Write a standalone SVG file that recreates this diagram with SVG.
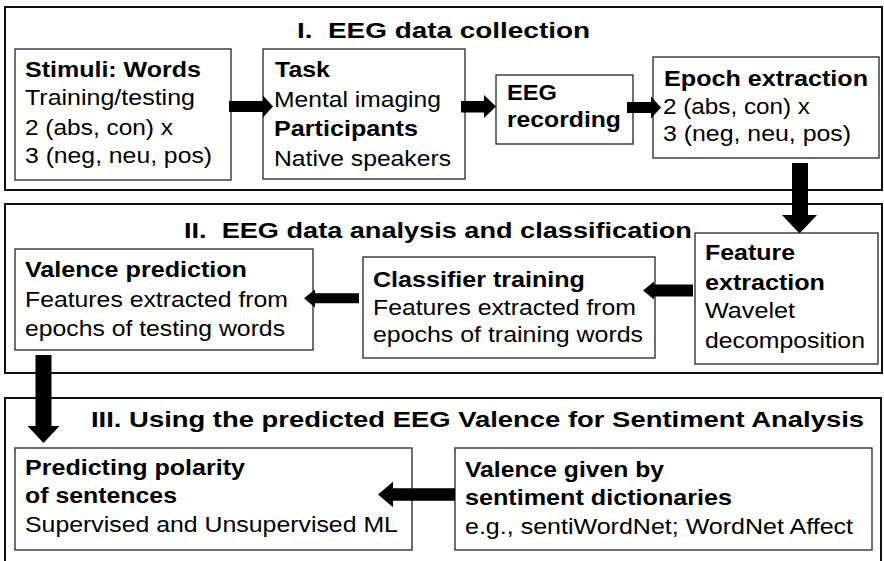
<svg xmlns="http://www.w3.org/2000/svg" width="884" height="561" viewBox="0 0 884 561">
<style>
text{font-family:"Liberation Sans",Arial,sans-serif;fill:#000;white-space:pre}
.t{font-size:21.5px;font-weight:bold}
.b{font-size:21.5px;font-weight:bold}
.r{font-size:21.5px}
.sec{fill:none;stroke:#111;stroke-width:2}
.box{fill:#fff;stroke:#333;stroke-width:1.4}
.arr{fill:#000}
</style>
<rect width="884" height="561" fill="#fff"/>
<g id="section-1">
<rect class="sec" x="5" y="7" width="877" height="183"/>
<text class="t" transform="matrix(1.15 0 0 1 297 38)" textLength="254.8" lengthAdjust="spacingAndGlyphs">I.  EEG data collection</text>
</g>
<g id="section-2">
<rect class="sec" x="5" y="204" width="877" height="169"/>
<text class="t" transform="matrix(1.15 0 0 1 184 238)" textLength="441.7" lengthAdjust="spacingAndGlyphs">II.  EEG data analysis and classification</text>
</g>
<g id="section-3">
<rect class="sec" x="5" y="398" width="876" height="170"/>
<text class="t" transform="matrix(1.15 0 0 1 91 427)" textLength="672.2" lengthAdjust="spacingAndGlyphs">III. Using the predicted EEG Valence for Sentiment Analysis</text>
</g>
<g id="node-stimuli">
<rect class="box" x="15" y="49" width="216" height="131"/>
<text class="b" transform="matrix(1.15 0 0 1 25 77)" textLength="153" lengthAdjust="spacingAndGlyphs">Stimuli: Words</text>
<text class="r" transform="matrix(1.15 0 0 1 25 105)" textLength="147.8" lengthAdjust="spacingAndGlyphs">Training/testing</text>
<text class="r" transform="matrix(1.15 0 0 1 25 135)" textLength="128.7" lengthAdjust="spacingAndGlyphs">2 (abs, con) x</text>
<text class="r" transform="matrix(1.15 0 0 1 25 163)" textLength="162.6" lengthAdjust="spacingAndGlyphs">3 (neg, neu, pos)</text>
</g>
<g id="node-task">
<rect class="box" x="263" y="49" width="202" height="130"/>
<text class="b" transform="matrix(1.15 0 0 1 275 77)" textLength="47.8" lengthAdjust="spacingAndGlyphs">Task</text>
<text class="r" transform="matrix(1.15 0 0 1 274 107)" textLength="145.2" lengthAdjust="spacingAndGlyphs">Mental imaging</text>
<text class="b" transform="matrix(1.15 0 0 1 274 136)" textLength="125.2" lengthAdjust="spacingAndGlyphs">Participants</text>
<text class="r" transform="matrix(1.15 0 0 1 274 166)" textLength="153.9" lengthAdjust="spacingAndGlyphs">Native speakers</text>
</g>
<g id="node-eeg">
<rect class="box" x="496" y="75" width="137" height="69"/>
<text class="b" transform="matrix(1.15 0 0 1 507 100)" textLength="43.5" lengthAdjust="spacingAndGlyphs">EEG</text>
<text class="b" transform="matrix(1.15 0 0 1 507 127)" textLength="99.1" lengthAdjust="spacingAndGlyphs">recording</text>
</g>
<g id="node-epoch">
<rect class="box" x="653" y="57" width="226" height="101"/>
<text class="b" transform="matrix(1.15 0 0 1 664 86)" textLength="177.4" lengthAdjust="spacingAndGlyphs">Epoch extraction</text>
<text class="r" transform="matrix(1.15 0 0 1 663 114)" textLength="127.8" lengthAdjust="spacingAndGlyphs">2 (abs, con) x</text>
<text class="r" transform="matrix(1.15 0 0 1 663 141)" textLength="163.5" lengthAdjust="spacingAndGlyphs">3 (neg, neu, pos)</text>
</g>
<g id="node-feature">
<rect class="box" x="695" y="233" width="183" height="131"/>
<text class="b" transform="matrix(1.15 0 0 1 705 260)" textLength="78.3" lengthAdjust="spacingAndGlyphs">Feature</text>
<text class="b" transform="matrix(1.15 0 0 1 705 290)" textLength="104.3" lengthAdjust="spacingAndGlyphs">extraction</text>
<text class="r" transform="matrix(1.15 0 0 1 705 318)" textLength="78.3" lengthAdjust="spacingAndGlyphs">Wavelet</text>
<text class="r" transform="matrix(1.15 0 0 1 705 348)" textLength="139.1" lengthAdjust="spacingAndGlyphs">decomposition</text>
</g>
<g id="node-classifier">
<rect class="box" x="363" y="257" width="292" height="101"/>
<text class="b" transform="matrix(1.15 0 0 1 373 287)" textLength="184.3" lengthAdjust="spacingAndGlyphs">Classifier training</text>
<text class="r" transform="matrix(1.15 0 0 1 373 315)" textLength="228.7" lengthAdjust="spacingAndGlyphs">Features extracted from</text>
<text class="r" transform="matrix(1.15 0 0 1 373 342)" textLength="234.8" lengthAdjust="spacingAndGlyphs">epochs of training words</text>
</g>
<g id="node-valence">
<rect class="box" x="15" y="249" width="298" height="101"/>
<text class="b" transform="matrix(1.15 0 0 1 25 277)" textLength="193" lengthAdjust="spacingAndGlyphs">Valence prediction</text>
<text class="r" transform="matrix(1.15 0 0 1 25 307)" textLength="228.7" lengthAdjust="spacingAndGlyphs">Features extracted from</text>
<text class="r" transform="matrix(1.15 0 0 1 25 336)" textLength="226.1" lengthAdjust="spacingAndGlyphs">epochs of testing words</text>
</g>
<g id="node-predicting">
<rect class="box" x="15" y="448" width="397" height="102"/>
<text class="b" transform="matrix(1.15 0 0 1 25 475)" textLength="191.3" lengthAdjust="spacingAndGlyphs">Predicting polarity</text>
<text class="b" transform="matrix(1.15 0 0 1 25 503)" textLength="132.2" lengthAdjust="spacingAndGlyphs">of sentences</text>
<text class="r" transform="matrix(1.15 0 0 1 25 532)" textLength="324.3" lengthAdjust="spacingAndGlyphs">Supervised and Unsupervised ML</text>
</g>
<g id="node-dictionaries">
<rect class="box" x="455" y="448" width="417" height="102"/>
<text class="b" transform="matrix(1.15 0 0 1 465 477)" textLength="173" lengthAdjust="spacingAndGlyphs">Valence given by</text>
<text class="b" transform="matrix(1.15 0 0 1 465 505)" textLength="232.2" lengthAdjust="spacingAndGlyphs">sentiment dictionaries</text>
<text class="r" transform="matrix(1.15 0 0 1 465 534)" textLength="337.4" lengthAdjust="spacingAndGlyphs">e.g., sentiWordNet; WordNet Affect</text>
</g>
<g id="connectors">
<polygon class="arr" points="229,101 263,101 263,95.5 273,106.5 263,117.5 263,112 229,112"/>
<polygon class="arr" points="461,101 484,101 484,95 496,106.5 484,118 484,112.5 461,112.5"/>
<polygon class="arr" points="627,102 651,102 651,96.5 661,107.5 651,118.5 651,113 627,113"/>
<polygon class="arr" points="792,163 808,163 808,215 817,215 799.5,233.5 782,215 792,215"/>
<polygon class="arr" points="693,284.5 654,284.5 654,281.5 643,290.5 654,299.5 654,296.5 693,296.5"/>
<polygon class="arr" points="359,293.3 315,293.3 315,289.5 304,298.3 315,307.5 315,303.3 359,303.3"/>
<polygon class="arr" points="35.5,355 51.5,355 51.5,426 59.5,426 43.5,443 27.5,426 35.5,426"/>
<polygon class="arr" points="455,488.3 393,488.3 393,481.7 378,494.5 393,507.3 393,500.7 455,500.7"/>
</g>
</svg>
